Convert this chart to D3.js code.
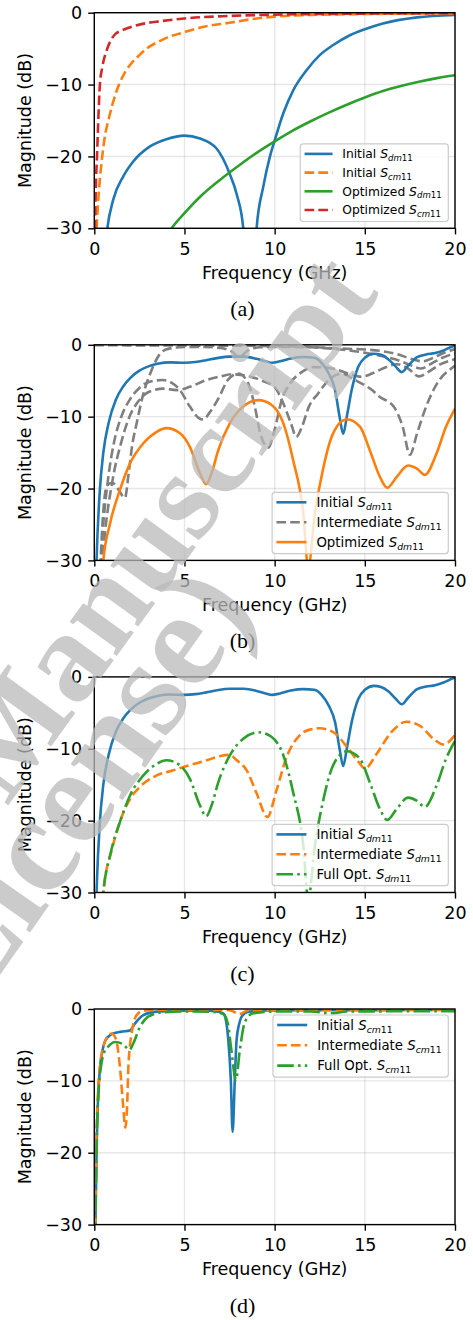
<!DOCTYPE html>
<html>
<head>
<meta charset="utf-8">
<script src="https://cdn.jsdelivr.net/npm/d3@7"></script>
<style>
  body { margin: 0; background: #fff; }
</style>
</head>
<body>
<svg id="chart" width="473" height="1320" font-family="DejaVu Sans, sans-serif"></svg>
<script>
// ---- data: [frequency GHz, magnitude dB] ----
// (a)
var initialSdm11A = [[0.55,-34],[0.72,-30],[1.05,-26],[1.6,-22.8],[2.16,-20.7],[3.09,-18.6],[4.0,-17.6],[5.0,-17.1],[5.86,-17.5],[6.78,-18.9],[7.49,-22.3],[7.9,-25.3],[8.26,-30],[8.45,-38],[8.8,-38],[9.0,-30],[9.37,-24.2],[9.74,-20.0],[10.0,-17.8],[10.48,-14.0],[11.03,-10.8],[11.77,-8.0],[12.5,-5.9],[13.25,-4.5],[14.2,-3.1],[15.0,-2.3],[16.0,-1.5],[17.9,-0.65],[20,-0.32]];
var initialScm11A = [[0.1,-32],[0.13,-30],[0.25,-25],[0.44,-20],[0.6,-17],[0.78,-15],[1.0,-12.8],[1.37,-10],[1.7,-8.3],[2.07,-7],[2.5,-5.9],[2.9,-5],[3.5,-4.1],[4,-3.5],[5,-2.7],[6,-2.0],[7.5,-1.4],[9,-0.8],[10,-0.55],[12.5,-0.28],[15,-0.18],[20,-0.1]];
var optSdm11A = [[4.0,-31.2],[4.29,-30],[5,-27.9],[6,-25.3],[7,-23.2],[8,-21.3],[9,-19.5],[10,-17.9],[11,-16.4],[12,-15.1],[13,-13.9],[14,-12.8],[15,-11.8],[16,-10.9],[17,-10.2],[18,-9.6],[19,-9.1],[20,-8.7]];
var optScm11A = [[0.02,-34],[0.04,-30],[0.1,-23],[0.15,-20],[0.22,-15],[0.31,-10],[0.45,-7.5],[0.72,-5],[1.15,-3],[1.5,-2.5],[2.16,-1.9],[3,-1.4],[3.6,-1.2],[5,-0.8],[7.5,-0.45],[10,-0.28],[15,-0.13],[20,-0.08]];

// (b) and (c)
var initialSdm11 = [[0.1,-32],[0.13,-29.5],[0.3,-20.5],[0.5,-15],[0.8,-10.8],[1.2,-7.6],[1.6,-5.8],[2.0,-4.6],[2.5,-3.6],[3.0,-3.0],[3.5,-2.65],[4.2,-2.45],[5.0,-2.5],[5.6,-2.4],[6.2,-2.15],[6.8,-1.85],[7.5,-1.65],[8.3,-1.65],[9.0,-1.95],[9.5,-2.3],[9.85,-2.5],[10.3,-2.3],[10.9,-1.9],[11.6,-1.7],[12.2,-1.8],[12.6,-2.5],[13.0,-4.0],[13.35,-6.3],[13.6,-10],[13.8,-12.4],[14.0,-10],[14.27,-6.3],[14.63,-3.1],[15.0,-1.8],[15.5,-1.25],[15.9,-1.4],[16.3,-2.0],[16.7,-3.0],[17.05,-3.8],[17.4,-2.9],[17.9,-1.7],[18.4,-1.35],[18.9,-1.15],[19.4,-0.75],[19.9,-0.2],[20,-0.15]];
var interSdm11B1 = [[0,-0.05],[4,-0.1],[8,-0.12],[10,-0.2],[12,-0.3],[13,-0.45],[14,-0.55],[15,-0.65],[16,-0.9],[16.8,-1.3],[17.5,-1.9],[18.2,-2.3],[18.8,-1.8],[19.4,-1.1],[20,-0.6]];
var interSdm11B2 = [[0.3,-33],[0.45,-25],[0.7,-19.6],[1.0,-19.2],[1.3,-20],[1.7,-21.3],[1.9,-18],[2.1,-14],[2.35,-10.9],[2.7,-7],[3.18,-3.5],[3.5,-1.8],[3.73,-1.0],[4.2,-0.5],[5,-0.3],[6,-0.3],[7,-0.45],[7.6,-0.9],[8.05,-1.7],[8.5,-0.8],[9.2,-0.35],[10,-0.3],[12,-0.35],[13,-0.5],[14,-0.75],[15,-1.1],[16,-1.6],[17,-2.3],[17.6,-2.9],[18.1,-3.3],[18.7,-2.6],[19.3,-1.8],[20,-1.2]];
var interSdm11B3 = [[0.3,-33],[0.5,-25],[0.8,-18],[1.1,-13.5],[1.5,-10],[2.0,-7.5],[2.5,-6.0],[3.0,-5.2],[3.8,-4.9],[4.3,-5.3],[4.75,-6.3],[5.3,-8.6],[5.8,-10.2],[6.05,-10.4],[6.4,-9.4],[6.9,-7.4],[7.4,-4.9],[7.98,-4.0],[8.54,-5.4],[8.9,-8.6],[9.2,-12.3],[9.65,-14.3],[10.0,-11.8],[10.39,-7.7],[10.85,-5.4],[11.5,-3.8],[12.2,-3.1],[13.2,-3.3],[14.1,-4.0],[14.8,-4.45],[15.4,-4.0],[16.0,-3.3],[16.8,-2.7],[17.4,-3.3],[18.0,-4.4],[18.5,-3.8],[19.2,-2.7],[20,-2.0]];
var interSdm11B4 = [[0.35,-33],[0.6,-26],[1.0,-19],[1.5,-13.5],[1.95,-10],[2.4,-8],[2.8,-6.9],[3.3,-6.3],[3.83,-6.1],[4.57,-6.3],[5.3,-5.85],[6.23,-4.9],[7.0,-4.4],[7.6,-4.1],[8.6,-4.4],[9.3,-5.0],[10.0,-5.9],[10.4,-7.7],[10.9,-10.9],[11.2,-12.8],[11.5,-11.5],[11.9,-8.6],[12.4,-6.8],[13.0,-4.9],[13.7,-4.0],[14.45,-4.9],[15.4,-6.3],[15.8,-7.2],[16.6,-8.6],[17.1,-11.4],[17.5,-15.3],[17.9,-12.3],[18.4,-8.6],[19.0,-5.4],[19.9,-3.1],[20,-2.9]];
var optSdm11 = [[0.4,-33],[0.5,-30],[0.87,-24.9],[1.42,-20.2],[1.98,-16.5],[2.72,-13.7],[3.46,-12.1],[4.0,-11.6],[4.75,-12.3],[5.3,-14.2],[5.86,-17.9],[6.2,-19.4],[6.5,-17.9],[6.87,-14.7],[7.52,-10.9],[8.26,-8.6],[9.1,-7.7],[9.8,-8.3],[10.48,-10.9],[11.03,-16.1],[11.59,-23.5],[11.86,-31],[12.23,-23.5],[12.7,-17.1],[13.16,-12.8],[13.5,-11.2],[14.0,-10.35],[14.73,-11.4],[15.28,-14.7],[15.84,-18.4],[16.24,-19.9],[16.76,-18.4],[17.4,-16.8],[17.87,-17.2],[18.33,-18.1],[18.98,-15.1],[19.5,-11.4],[20,-8.9]];
var interSdm11C = [[0.4,-33],[0.5,-30],[1.0,-23.8],[1.5,-19.6],[2.0,-16.9],[2.53,-15.3],[3.46,-13.7],[4.38,-13.0],[5.12,-12.4],[6.23,-11.6],[7.0,-11.0],[7.5,-10.85],[7.9,-11.6],[8.45,-13.0],[9.0,-16.2],[9.6,-19.5],[10.1,-15.8],[10.67,-11.1],[11.4,-8.1],[12.0,-7.3],[12.5,-7.15],[13.25,-7.7],[14.0,-9.7],[14.64,-11.8],[15.0,-12.75],[15.66,-10.7],[16.4,-7.9],[17.32,-6.25],[18.06,-6.8],[18.8,-8.6],[19.35,-9.4],[20,-8.1]];

// (d)
var initialScm11 = [[0.05,-32],[0.13,-19.2],[0.2,-13],[0.32,-8],[0.45,-5.8],[0.59,-4.5],[0.8,-3.8],[1.05,-3.4],[1.5,-3.15],[1.98,-3.0],[2.26,-2.0],[2.72,-0.85],[3.46,-0.37],[4.5,-0.25],[6,-0.2],[6.7,-0.3],[7.15,-0.6],[7.3,-1.6],[7.43,-4.3],[7.57,-9.9],[7.67,-17.1],[7.79,-9.9],[7.89,-4.3],[8.02,-2.2],[8.17,-1.07],[8.5,-0.4],[9.5,-0.2],[12,-0.15],[16,-0.15],[20,-0.12]];
var interScm11 = [[0.05,-32],[0.1,-20],[0.2,-12],[0.3,-8.5],[0.45,-5.8],[0.65,-4.2],[0.96,-3.4],[1.2,-4.2],[1.42,-8],[1.6,-13.5],[1.72,-16.5],[1.82,-13.5],[1.89,-8],[2.07,-3.4],[2.35,-0.85],[2.7,-0.25],[3.5,-0.12],[7,-0.1],[7.6,-0.25],[8.05,-0.7],[8.5,-0.2],[10,-0.1],[20,-0.08]];
var fullOptScm11 = [[0.05,-32],[0.13,-19],[0.25,-11],[0.37,-8],[0.55,-6],[0.78,-5.2],[1.15,-4.6],[1.6,-4.9],[1.94,-5.7],[2.16,-4.8],[2.53,-2.5],[2.99,-1.07],[3.8,-0.45],[5,-0.35],[6.5,-0.4],[7.15,-0.7],[7.4,-2.0],[7.6,-5.7],[7.85,-9.9],[8.07,-5.7],[8.35,-1.8],[8.8,-0.6],[10,-0.35],[12,-0.35],[13.1,-0.6],[14,-0.35],[20,-0.3]];

var xTicks = [0, 5, 10, 15, 20];
var yTicks = [0, -10, -20, -30];
var captions = ['(a)', '(b)', '(c)', '(d)'];

var BLUE = '#1f77b4', ORANGE = '#ff7f0e', GREEN = '#2ca02c', RED = '#d62728', GREY = '#7f7f7f';
var DASH = '9.6,4.2', DASHDOT = '16.6,4.2,2.6,4.2';
var SANS = '"DejaVu Sans", sans-serif';
var SERIF = '"Liberation Serif", "Times New Roman", serif';

var svg = d3.select('#chart');
var axLeft = 94.3, axRight = 455, axH = 215.6, firstTop = 12.7, step = 332.1;
var x = d3.scaleLinear().domain([0, 20]).range([axLeft, axRight]);

var panels = [
  {
    series: [
      {data: initialSdm11A, color: BLUE},
      {data: initialScm11A, color: ORANGE, dash: DASH},
      {data: optSdm11A, color: GREEN},
      {data: optScm11A, color: RED, dash: DASH}
    ],
    legend: {fs: 12.3, row: 18.7, handle: 28, gap: 9.7, where: 'lower', items: [
      {label: 'Initial ', sub: ['dm', '11'], color: BLUE},
      {label: 'Initial ', sub: ['cm', '11'], color: ORANGE, dash: DASH},
      {label: 'Optimized ', sub: ['dm', '11'], color: GREEN},
      {label: 'Optimized ', sub: ['cm', '11'], color: RED, dash: DASH}
    ]}
  },
  {
    series: [
      {data: interSdm11B1, color: GREY, dash: DASH},
      {data: interSdm11B2, color: GREY, dash: DASH},
      {data: interSdm11B3, color: GREY, dash: DASH},
      {data: interSdm11B4, color: GREY, dash: DASH},
      {data: initialSdm11, color: BLUE},
      {data: optSdm11, color: ORANGE}
    ],
    legend: {fs: 13.3, row: 19.9, handle: 30, gap: 10, where: 'lower', items: [
      {label: 'Initial ', sub: ['dm', '11'], color: BLUE},
      {label: 'Intermediate ', sub: ['dm', '11'], color: GREY, dash: DASH},
      {label: 'Optimized ', sub: ['dm', '11'], color: ORANGE}
    ]}
  },
  {
    series: [
      {data: initialSdm11, color: BLUE},
      {data: interSdm11C, color: ORANGE, dash: DASH},
      {data: optSdm11, color: GREEN, dash: DASHDOT}
    ],
    legend: {fs: 13.3, row: 19.9, handle: 30, gap: 10, where: 'lower', items: [
      {label: 'Initial ', sub: ['dm', '11'], color: BLUE},
      {label: 'Intermediate ', sub: ['dm', '11'], color: ORANGE, dash: DASH},
      {label: 'Full Opt. ', sub: ['dm', '11'], color: GREEN, dash: DASHDOT}
    ]}
  },
  {
    series: [
      {data: initialScm11, color: BLUE},
      {data: interScm11, color: ORANGE, dash: DASH},
      {data: fullOptScm11, color: GREEN, dash: DASHDOT}
    ],
    legend: {fs: 13.3, row: 20.3, handle: 30, gap: 10, where: 'upper', items: [
      {label: 'Initial ', sub: ['cm', '11'], color: BLUE},
      {label: 'Intermediate ', sub: ['cm', '11'], color: ORANGE, dash: DASH},
      {label: 'Full Opt. ', sub: ['cm', '11'], color: GREEN, dash: DASHDOT}
    ]}
  }
];

function addLabel(text, item, fs) {
  text.append('tspan').text(item.label);
  text.append('tspan').attr('font-style', 'italic').text('S');
  text.append('tspan').attr('font-style', 'italic').attr('font-size', fs * 0.7)
    .attr('dy', fs * 0.22).text(item.sub[0]);
  text.append('tspan').attr('font-size', fs * 0.7).text(item.sub[1]);
}

function drawPanel(p, i) {
  var top = firstTop + step * i;
  var y = d3.scaleLinear().domain([-30, 0]).range([top + axH, top]);
  var g = svg.append('g');

  // grid
  g.selectAll('.gx').data(xTicks).enter().append('line')
    .attr('x1', function(d) { return x(d); }).attr('x2', function(d) { return x(d); })
    .attr('y1', top).attr('y2', top + axH)
    .attr('stroke', '#b0b0b0').attr('stroke-opacity', 0.3).attr('stroke-width', 1.4);
  g.selectAll('.gy').data(yTicks).enter().append('line')
    .attr('x1', axLeft).attr('x2', axRight)
    .attr('y1', function(d) { return y(d); }).attr('y2', function(d) { return y(d); })
    .attr('stroke', '#b0b0b0').attr('stroke-opacity', 0.3).attr('stroke-width', 1.4);

  // curves
  var clipId = 'clip' + i;
  svg.append('clipPath').attr('id', clipId).append('rect')
    .attr('x', axLeft).attr('y', top).attr('width', axRight - axLeft).attr('height', axH);
  var line = d3.line().x(function(d) { return x(d[0]); }).y(function(d) { return y(d[1]); })
    .curve(d3.curveMonotoneX);
  var lines = g.append('g').attr('clip-path', 'url(#' + clipId + ')');
  p.series.forEach(function(s) {
    lines.append('path').attr('d', line(s.data)).attr('fill', 'none')
      .attr('stroke', s.color).attr('stroke-width', 2.6)
      .attr('stroke-dasharray', s.dash || null);
  });

  // axes
  var xAxis = g.append('g').attr('transform', 'translate(0,' + (top + axH) + ')')
    .call(d3.axisBottom(x).tickValues(xTicks).tickSize(6.1).tickSizeOuter(0).tickPadding(8)
      .tickFormat(d3.format('d')));
  var yAxis = g.append('g').attr('transform', 'translate(' + axLeft + ',0)')
    .call(d3.axisLeft(y).tickValues(yTicks).tickSize(6.1).tickSizeOuter(0).tickPadding(6.1)
      .tickFormat(d3.format('d')));
  [xAxis, yAxis].forEach(function(a) {
    a.select('.domain').remove();
    a.selectAll('line').attr('stroke', '#000').attr('stroke-width', 1.4);
    a.selectAll('text').attr('font-size', 17.5).attr('font-family', SANS).attr('fill', '#000');
  });
  g.append('rect').attr('x', axLeft).attr('y', top).attr('width', axRight - axLeft).attr('height', axH)
    .attr('fill', 'none').attr('stroke', '#000').attr('stroke-width', 1.4);

  g.append('text').attr('x', (axLeft + axRight) / 2).attr('y', top + axH + 50.2)
    .attr('text-anchor', 'middle').attr('font-size', 17.5).text('Frequency (GHz)');
  g.append('text').attr('transform', 'translate(31,' + (top + axH / 2) + ') rotate(-90)')
    .attr('text-anchor', 'middle').attr('font-size', 17.5).text('Magnitude (dB)');

  // legend
  var L = p.legend;
  var lg = g.append('g');
  var box = lg.append('rect');
  var texts = [];
  L.items.forEach(function(item, k) {
    var t = lg.append('text').attr('font-size', L.fs).attr('y', k * L.row + L.fs * 0.36);
    addLabel(t, item, L.fs);
    texts.push(t);
  });
  var maxW = d3.max(texts, function(t) { return t.node().getComputedTextLength(); });
  var bw = 4.3 + L.handle + L.gap + maxW + 6.6;
  var bh = 10 + (L.items.length - 1) * L.row + 11.5;
  var bx = axRight - 6.7 - bw;
  var by = L.where === 'upper' ? top + 6 : top + axH - 6.8 - bh;
  box.attr('x', bx).attr('y', by).attr('width', bw).attr('height', bh).attr('rx', 3)
    .attr('fill', '#fff').attr('fill-opacity', 0.8).attr('stroke', '#cccccc').attr('stroke-width', 1.2);
  L.items.forEach(function(item, k) {
    var cy = by + 10 + k * L.row;
    lg.append('line').attr('x1', bx + 4.3).attr('x2', bx + 4.3 + L.handle)
      .attr('y1', cy).attr('y2', cy).attr('stroke', item.color).attr('stroke-width', 2.6)
      .attr('stroke-dasharray', item.dash || null);
    texts[k].attr('x', bx + 4.3 + L.handle + L.gap).attr('y', cy + L.fs * 0.36);
  });

  // caption
  svg.append('text').attr('x', 242.5).attr('y', top + axH + 88)
    .attr('text-anchor', 'middle').attr('font-size', 22)
    .attr('font-family', SERIF).text(captions[i]);
}

panels.forEach(drawPanel);

// watermark
var wm = svg.append('g').attr('fill', '#bababa').attr('fill-opacity', 0.75)
  .attr('font-family', SERIF).attr('font-weight', 'bold');
wm.append('text').attr('transform', 'translate(7,807) rotate(-54)')
  .attr('font-size', 127).text('Manuscript');
wm.append('text').attr('transform', 'translate(-51,1048) rotate(-55)')
  .attr('font-size', 138).text('(License)');
</script>
</body>
</html>
